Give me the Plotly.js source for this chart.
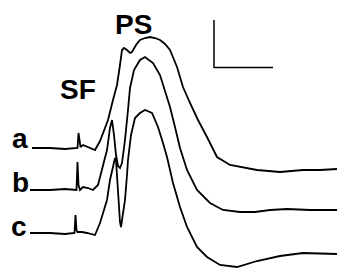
<!DOCTYPE html>
<html>
<head>
<meta charset="utf-8">
<script src="https://cdn.plot.ly/plotly-3.0.1.min.js"></script>
<style>html,body{margin:0;padding:0;background:#fff;}#chart{width:341px;height:268px;}</style>
</head>
<body>
<div id="chart"></div>
<script>
// Trace a (time, potential) in figure units (y grows downward)
var aTime = [32, 50, 65, 76, 77.5, 78.5, 79.5, 80.5, 83, 88, 95, 100, 105, 108, 113, 117, 120, 122, 124, 127, 130, 132, 136, 140, 145, 150, 155, 160, 165, 170, 177, 183, 190, 198, 207, 217, 230, 240, 257, 280, 303, 320, 337];
var aPot  = [148, 148, 149, 148, 148, 133, 143, 147, 145, 147, 150, 141, 128, 120, 100, 85, 65, 50, 48, 50, 53, 52, 45, 40, 38, 37, 38, 40, 44, 50, 67, 87, 103, 120, 137, 157, 165, 167, 170, 172, 170, 170, 169];
// Trace b
var bTime = [30, 50, 65, 75, 76.5, 77.5, 78.5, 80, 83, 88, 93, 98, 103, 107, 110, 112, 114, 116, 118, 120, 122, 125, 128, 130, 134, 140, 145, 153, 160, 165, 170, 175, 180, 187, 197, 210, 223, 240, 255, 270, 287, 310, 337];
var bPot  = [190, 190, 189, 190, 190, 162, 185, 190, 187, 188, 190, 185, 167, 150, 128, 120, 135, 155, 166, 168, 163, 140, 110, 88, 70, 60, 57, 63, 75, 92, 107, 127, 148, 170, 190, 203, 210, 212, 212, 210, 209, 210, 210];
// Trace c
var cTime = [30, 50, 65, 73, 74.5, 75.5, 76.5, 77.5, 82, 87, 95, 100, 104, 107, 110, 113, 115, 116, 118, 120, 121, 123, 125, 127, 128, 131, 135, 140, 145, 152, 158, 163, 167, 173, 180, 187, 197, 207, 220, 237, 257, 280, 303, 337];
var cPot  = [233, 233, 234, 233, 233, 215, 230, 232, 232, 233, 235, 223, 210, 200, 180, 165, 158, 160, 195, 222, 227, 215, 200, 175, 160, 135, 118, 113, 110, 113, 127, 143, 157, 183, 207, 227, 247, 257, 265, 267, 261, 256, 253, 254];
// Scale bar
var scaleBarX = [214, 214, 273];
var scaleBarY = [20, 67.5, 67.5];
// Labels
var labelText = ["a", "b", "c", "SF", "PS"];
var labelX = [20, 20, 19, 78, 133];
var labelY = [138, 182, 226, 89, 24];

var lineStyle = {color: '#000', width: 1.8};
var traces = [
  {x: aTime, y: aPot, mode: 'lines', line: lineStyle, hoverinfo: 'skip'},
  {x: bTime, y: bPot, mode: 'lines', line: lineStyle, hoverinfo: 'skip'},
  {x: cTime, y: cPot, mode: 'lines', line: lineStyle, hoverinfo: 'skip'},
  {x: scaleBarX, y: scaleBarY, mode: 'lines', line: {color: '#000', width: 1.5}, hoverinfo: 'skip'}
];
var annotations = labelText.map(function (t, i) {
  return {x: labelX[i], y: labelY[i], xref: 'x', yref: 'y', text: '<b>' + t + '</b>', showarrow: false,
    xanchor: 'center', yanchor: 'middle',
    font: {family: 'Liberation Sans, Arial, sans-serif', size: 28, color: '#000'}};
});
var layout = {
  width: 341, height: 268,
  margin: {l: 0, r: 0, t: 0, b: 0},
  paper_bgcolor: '#fff', plot_bgcolor: '#fff',
  showlegend: false,
  xaxis: {range: [0, 341], visible: false, fixedrange: true},
  yaxis: {range: [268, 0], visible: false, fixedrange: true},
  annotations: annotations
};
Plotly.newPlot('chart', traces, layout, {displayModeBar: false, staticPlot: true});
</script>
</body>
</html>
